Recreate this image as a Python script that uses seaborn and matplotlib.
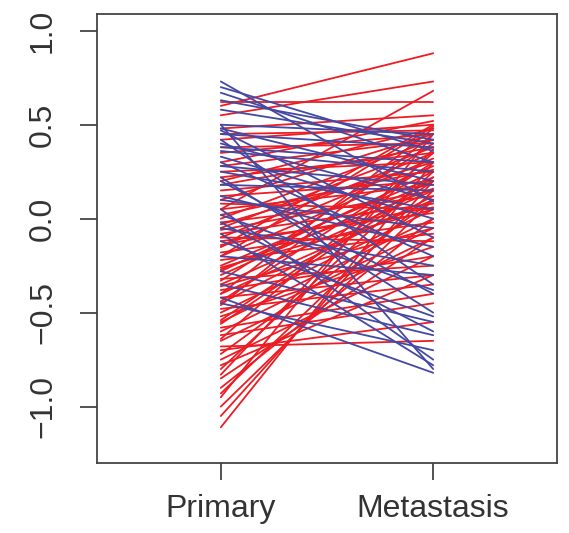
import matplotlib
matplotlib.use("Agg")
import matplotlib.pyplot as plt
import seaborn as sns
import pandas as pd

stages = ["Primary", "Metastasis"]

red_primary = [0.60, 0.55, 0.62, 0.05, 0.48, 0.30, 0.42, 0.20, 0.10, 0.45, 0.38, 0.00,
               -0.05, -0.10, 0.25, -0.15, -0.20, 0.15, -0.25, -0.30, 0.05, -0.35, -0.02,
               -0.40, -0.45, -0.08, -0.50, -0.12, -0.55, -0.60, -0.18, -0.65, -0.22, -0.28,
               -0.33, -0.38, -0.42, -0.48, -0.52, 0.35, 0.12, -0.03, -0.58, -0.15, 0.22,
               -0.06, -0.26, -0.36, 0.08, -0.44, 0.28, -0.46, -0.56, -0.64, -1.11, -1.05,
               -1.00, -0.95, -0.90, -0.85, -0.80, -0.75, -0.70, -0.68, -0.62, -0.72, -0.78,
               0.18, -0.10, -0.32, -0.20, -0.40, 0.02, -0.27, -0.54, -0.14, -0.83, -0.93]
red_metastasis = [0.88, 0.73, 0.62, 0.68, 0.55, 0.52, 0.50, 0.48, 0.45, 0.47, 0.40, 0.42,
                  0.38, 0.35, 0.30, 0.32, 0.28, 0.25, 0.22, 0.20, 0.18, 0.15, 0.12,
                  0.10, 0.12, 0.08, 0.05, 0.03, 0.00, -0.05, -0.02, -0.10, -0.08, 0.25,
                  0.40, -0.20, -0.30, -0.35, -0.15, 0.45, 0.20, 0.30, -0.40, 0.50, 0.35,
                  0.15, 0.05, -0.05, 0.05, 0.30, 0.42, 0.45, 0.20, 0.35, 0.30, 0.20,
                  0.10, 0.45, 0.00, -0.10, 0.25, -0.20, -0.55, -0.65, -0.45, 0.10, -0.30,
                  0.38, -0.12, -0.25, 0.49, 0.48, 0.26, 0.16, 0.22, 0.06, 0.37, 0.15]

blue_primary = [0.73, 0.70, 0.67, 0.63, 0.58, 0.50, 0.48, 0.45, 0.42, 0.40, 0.36, 0.30,
                0.25, 0.22, 0.18, 0.10, 0.05, 0.02, -0.02, -0.08, -0.12, -0.20, -0.28,
                -0.42, -0.35, -0.45, 0.38, 0.12, -0.05, 0.28, 0.50, 0.33, 0.47, 0.20]
blue_metastasis = [0.09, 0.36, 0.30, 0.42, 0.40, -0.80, 0.20, 0.38, -0.35, 0.10, 0.25, -0.20,
                   0.05, -0.50, 0.15, -0.05, -0.75, -0.38, -0.60, -0.78, -0.52, -0.30, -0.55,
                   -0.82, -0.62, -0.70, 0.30, -0.15, -0.25, 0.18, 0.45, 0.00, -0.10, -0.40]

y_ticks = [-1.0, -0.5, 0.0, 0.5, 1.0]

rows = []
pid = 0
for grp, prim, met in [("up", red_primary, red_metastasis), ("down", blue_primary, blue_metastasis)]:
    for p, m in zip(prim, met):
        rows.append({"pair": pid, "stage": 1, "value": p, "group": grp})
        rows.append({"pair": pid, "stage": 2, "value": m, "group": grp})
        pid += 1
df = pd.DataFrame(rows)

sns.set_style("white")
plt.rcParams["font.family"] = ["Liberation Sans", "DejaVu Sans"]

fig = plt.figure(figsize=(5.69, 5.33), dpi=100)
ax = fig.add_axes([97/569, 1 - 463/533, (557 - 97)/569, (463 - 14)/533])

sns.lineplot(data=df, x="stage", y="value", hue="group", units="pair", estimator=None,
             palette={"up": "#ec1c24", "down": "#4349a3"}, hue_order=["up", "down"],
             linewidth=1.3, legend=False, ax=ax, sort=False)

ax.set_xlim(1 - 0.583, 2 + 0.583)
ax.set_ylim(-1.30, 1.089)
ax.set_xticks([1, 2])
ax.set_xticklabels(stages)
ax.set_yticks(y_ticks)
ax.set_yticklabels([f"{v:.1f}".replace("-", "\u2212") for v in y_ticks], rotation=90, va="center")
ax.set_xlabel("")
ax.set_ylabel("")
for s in ax.spines.values():
    s.set_visible(True)
    s.set_color("#444444")
    s.set_linewidth(1.3)
ax.tick_params(axis="both", which="both", direction="out", length=12, width=1.3,
               color="#444444", labelsize=23, labelcolor="#333333", pad=10,
               left=True, bottom=True)
ax.tick_params(axis="y", pad=16)
ax.grid(False)

fig.savefig("out.png", dpi=100, facecolor="white")
